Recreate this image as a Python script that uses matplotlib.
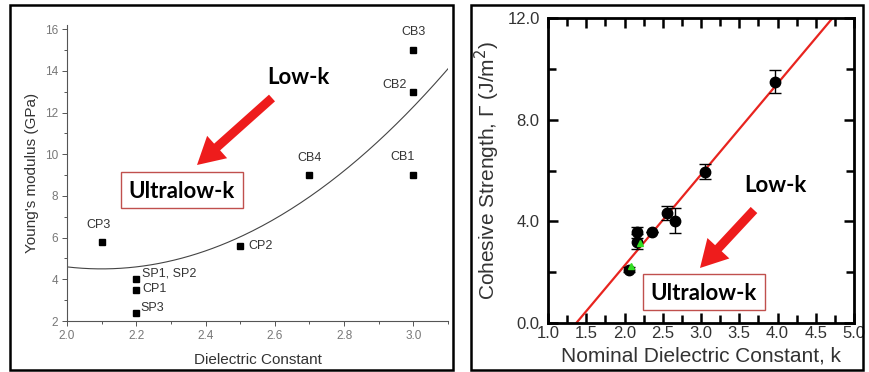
import numpy as np
import matplotlib.pyplot as plt
from matplotlib.patches import Rectangle, FancyArrow
from matplotlib.transforms import Affine2D
from matplotlib.ticker import MultipleLocator, FormatStrFormatter

# left panel: Young's modulus vs dielectric constant
lk_names = ["CP3", "SP1, SP2", "CP1", "SP3", "CP2", "CB4", "CB1", "CB2", "CB3"]
lk_k = [2.1, 2.2, 2.2, 2.2, 2.5, 2.7, 3.0, 3.0, 3.0]
lk_E = [5.8, 4.0, 3.5, 2.4, 5.6, 9.0, 9.0, 13.0, 15.0]
# quadratic fit: E = a*(k - k0)^2 + E0
fit_a, fit_k0, fit_E0 = 9.6, 2.1, 4.5
fit_range = (2.0, 3.1)

# right panel: cohesive strength vs nominal k
cs_k = [2.06, 2.16, 2.16, 2.36, 2.55, 2.66, 3.05, 3.97]
cs_G = [2.09, 3.57, 3.20, 3.57, 4.32, 4.03, 5.96, 9.50]
cs_err = [0.10, 0.22, 0.30, 0.0, 0.28, 0.50, 0.30, 0.45]
green_k = [2.08, 2.20]
green_G = [2.26, 3.13]
line_k = [1.37, 4.72]
line_G = [0.0, 12.0]

W, H = 869, 372
fig = plt.figure(figsize=(W / 100, H / 100), dpi=100)
fig.patch.set_facecolor("white")
pix = Affine2D().scale(1, -1).translate(0, H)  # image pixel coords, origin top-left


def fx(px):
    return px / W


def fy(py):
    return 1 - py / H


# panel frames
fig.patches.append(Rectangle((10, 5), 443, 365, transform=pix, fill=False, lw=1.8, ec="black"))
fig.patches.append(Rectangle((471, 5), 392, 365, transform=pix, fill=False, lw=1.8, ec="black"))

# ---------- left panel ----------
ax1 = fig.add_axes([fx(67), fy(321), fx(448 - 67), (321 - 25) / H])
ax1.set_xlim(2.0, 3.1)
ax1.set_ylim(2, 16.2)
for s in ("top", "right"):
    ax1.spines[s].set_visible(False)
for s in ("left", "bottom"):
    ax1.spines[s].set_color("#555555")
    ax1.spines[s].set_linewidth(0.8)
ax1.xaxis.set_major_locator(MultipleLocator(0.2))
ax1.xaxis.set_minor_locator(MultipleLocator(0.1))
ax1.yaxis.set_major_locator(MultipleLocator(2))
ax1.yaxis.set_minor_locator(MultipleLocator(1))
ax1.xaxis.set_major_formatter(FormatStrFormatter("%.1f"))
ax1.tick_params(which="both", direction="out", colors="#555555", labelsize=8.5, width=0.7)
ax1.tick_params(which="major", length=3.5, pad=3)
ax1.tick_params(which="minor", length=2)
for lab in ax1.get_xticklabels() + ax1.get_yticklabels():
    lab.set_color("#777777")
    lab.set_family("Liberation Sans")

xf = np.linspace(*fit_range, 200)
ax1.plot(xf, fit_a * (xf - fit_k0) ** 2 + fit_E0, color="#444444", lw=0.8)
ax1.plot(lk_k, lk_E, "s", color="black", ms=4.5, clip_on=False)

lbl_off = {"CP3": (-0.01, 0.8, "center"), "SP1, SP2": (0.017, 0.28, "left"),
           "CP1": (0.017, 0.05, "left"), "SP3": (0.012, 0.2, "left"),
           "CP2": (0.025, 0.0, "left"), "CB4": (0.0, 0.8, "center"),
           "CB1": (-0.03, 0.85, "center"), "CB2": (-0.055, 0.3, "center"),
           "CB3": (0.0, 0.85, "center")}
for n, k, e in zip(lk_names, lk_k, lk_E):
    dx, dy, ha = lbl_off[n]
    ax1.text(k + dx, e + dy, n, fontsize=9, color="#333333", ha=ha, va="center",
             family="Liberation Sans")
ax1.set_xlabel("Dielectric Constant", fontsize=11, color="#333333", family="Liberation Sans",
               labelpad=8)
ax1.set_ylabel("Young's modulus (GPa)", fontsize=11, color="#333333", family="Liberation Sans",
               labelpad=4)

# ---------- right panel ----------
ax2 = fig.add_axes([fx(548), fy(323), fx(854 - 548), (323 - 18) / H])
ax2.set_xlim(1.0, 5.0)
ax2.set_ylim(0, 12)
for s in ax2.spines.values():
    s.set_linewidth(2)
ax2.xaxis.set_major_locator(MultipleLocator(0.5))
ax2.xaxis.set_minor_locator(MultipleLocator(0.25))
ax2.yaxis.set_major_locator(MultipleLocator(4))
ax2.yaxis.set_minor_locator(MultipleLocator(2))
ax2.xaxis.set_major_formatter(FormatStrFormatter("%.1f"))
ax2.yaxis.set_major_formatter(FormatStrFormatter("%.1f"))
ax2.tick_params(which="both", direction="in", top=True, right=True, width=1.8,
                labelsize=12, colors="black")
ax2.tick_params(which="major", length=7)
ax2.tick_params(which="minor", length=6)
ax2.tick_params(axis="x", which="major", pad=2)
ax2.tick_params(axis="y", which="major", pad=6)
for lab in ax2.get_xticklabels() + ax2.get_yticklabels():
    lab.set_color("#333333")
    lab.set_family("Liberation Sans")

ax2.plot(line_k, line_G, color="#e8241f", lw=1.6, zorder=2)
ax2.errorbar(cs_k, cs_G, yerr=cs_err, fmt="o", color="black", ms=7.5, capsize=4,
             elinewidth=1, capthick=1, zorder=3)
ax2.plot(green_k, green_G, "^", color="#33dd22", ms=5, zorder=4)
ax2.set_xlabel("Nominal Dielectric Constant, k", fontsize=15, color="#333333",
               family="Liberation Sans", labelpad=4)
ax2.set_ylabel("Cohesive Strength, Γ (J/m$^2$)", fontsize=15, color="#333333",
               family="Liberation Sans", labelpad=4)


# ---------- annotations (image pixel coords) ----------
def arrow(x0, y0, x1, y1):
    fig.patches.append(FancyArrow(x0, y0, x1 - x0, y1 - y0, width=9, head_width=30,
                                  head_length=27, length_includes_head=True,
                                  color="#ee1c1c", lw=0, transform=pix))


def ulk_box(x0, y0, x1, y1):
    fig.patches.append(Rectangle((x0, y0), x1 - x0, y1 - y0, transform=pix, fill=False,
                                 lw=1, ec="#c0504d", zorder=5))
    fig.text(fx((x0 + x1) / 2), fy((y0 + y1) / 2 + 1), "Ultralow-k", fontsize=16,
             fontweight="bold", family="Lato", ha="center", va="center")


fig.text(fx(298), fy(77), "Low-k", fontsize=16, fontweight="bold", family="Lato",
         ha="center", va="center")
arrow(272, 98, 197, 165)
ulk_box(121, 172, 243, 208)

fig.text(fx(775), fy(186), "Low-k", fontsize=16, fontweight="bold", family="Lato",
         ha="center", va="center")
arrow(754, 210, 700, 268)
ulk_box(643, 274, 765, 310)

fig.savefig("out.png", dpi=100, facecolor="white")
